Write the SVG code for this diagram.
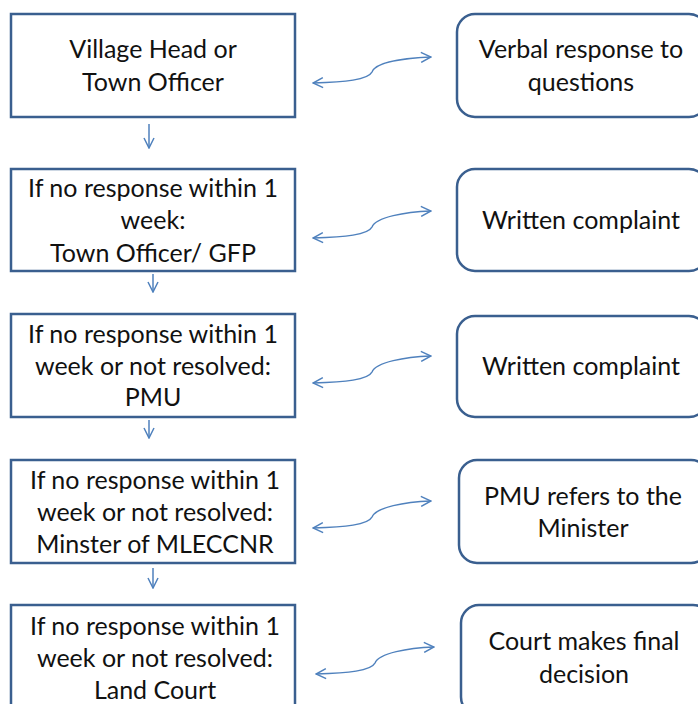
<svg xmlns="http://www.w3.org/2000/svg" width="698" height="704" viewBox="0 0 698 704">
<defs>
<style>
.box{fill:#fff;stroke:#3A5F8F;stroke-width:2.5}
.t{font-family:Lato,"Open Sans",sans-serif;font-size:25px;fill:#111;text-anchor:middle}
.c{fill:none;stroke:#4F81BD;stroke-width:1.5}
</style>
<marker id="ah" viewBox="0 0 12 12" refX="11" refY="6" markerWidth="12" markerHeight="12" markerUnits="userSpaceOnUse" orient="auto-start-reverse">
<path d="M1,1 L11,6 L1,11" fill="none" stroke="#4F81BD" stroke-width="1.5"/>
</marker>
</defs>
<rect width="698" height="704" fill="#fff"/>
<g id="connectors">
<path class="c" d="M149,124 V148" marker-end="url(#ah)"/>
<path class="c" d="M153,274 V292" marker-end="url(#ah)"/>
<path class="c" d="M149,420 V438" marker-end="url(#ah)"/>
<path class="c" d="M153,568 V588" marker-end="url(#ah)"/>
<path class="c" d="M313,83 C345,82 368,80 372,72 C376,62 405,58 431,57" marker-start="url(#ah)" marker-end="url(#ah)"/>
<path class="c" d="M313,238 C345,237 368,235 372,227 C376,217 405,212 431,211" marker-start="url(#ah)" marker-end="url(#ah)"/>
<path class="c" d="M313,383 C345,382 368,380 372,372 C376,362 405,357 431,356" marker-start="url(#ah)" marker-end="url(#ah)"/>
<path class="c" d="M313,528 C345,527 368,525 372,517 C376,507 405,502 431,501" marker-start="url(#ah)" marker-end="url(#ah)"/>
<path class="c" d="M316,674 C348,673 371,671 375,663 C379,653 408,648 434,647" marker-start="url(#ah)" marker-end="url(#ah)"/>
</g>
<g id="n1"><rect class="box" x="11" y="14" width="284" height="103"/><text class="t" x="153" y="58">Village Head or</text><text class="t" x="153" y="91">Town Officer</text></g>
<g id="n2"><rect class="box" x="11" y="169" width="284" height="102"/><text class="t" x="153" y="197">If no response within 1</text><text class="t" x="153" y="229">week:</text><text class="t" x="153" y="262">Town Officer/ GFP</text></g>
<g id="n3"><rect class="box" x="11" y="314" width="284" height="103"/><text class="t" x="153" y="343">If no response within 1</text><text class="t" x="153" y="375">week or not resolved:</text><text class="t" x="153" y="406">PMU</text></g>
<g id="n4"><rect class="box" x="11" y="460" width="284" height="103"/><text class="t" x="155" y="489">If no response within 1</text><text class="t" x="155" y="521">week or not resolved:</text><text class="t" x="155" y="553">Minster of MLECCNR</text></g>
<g id="n5"><rect class="box" x="11" y="605" width="284" height="110"/><text class="t" x="155" y="635">If no response within 1</text><text class="t" x="155" y="667">week or not resolved:</text><text class="t" x="155" y="699">Land Court</text></g>
<g id="r1"><rect class="box" x="457" y="14" width="250" height="103" rx="18"/><text class="t" x="581" y="58">Verbal response to</text><text class="t" x="581" y="91">questions</text></g>
<g id="r2"><rect class="box" x="457" y="169" width="250" height="102" rx="18"/><text class="t" x="581" y="229">Written complaint</text></g>
<g id="r3"><rect class="box" x="457" y="316" width="250" height="101" rx="18"/><text class="t" x="581" y="375">Written complaint</text></g>
<g id="r4"><rect class="box" x="459" y="460" width="250" height="103" rx="18"/><text class="t" x="583" y="505">PMU refers to the</text><text class="t" x="583" y="537">Minister</text></g>
<g id="r5"><rect class="box" x="461" y="605" width="250" height="110" rx="18"/><text class="t" x="584" y="650">Court makes final</text><text class="t" x="584" y="683">decision</text></g>
</svg>
